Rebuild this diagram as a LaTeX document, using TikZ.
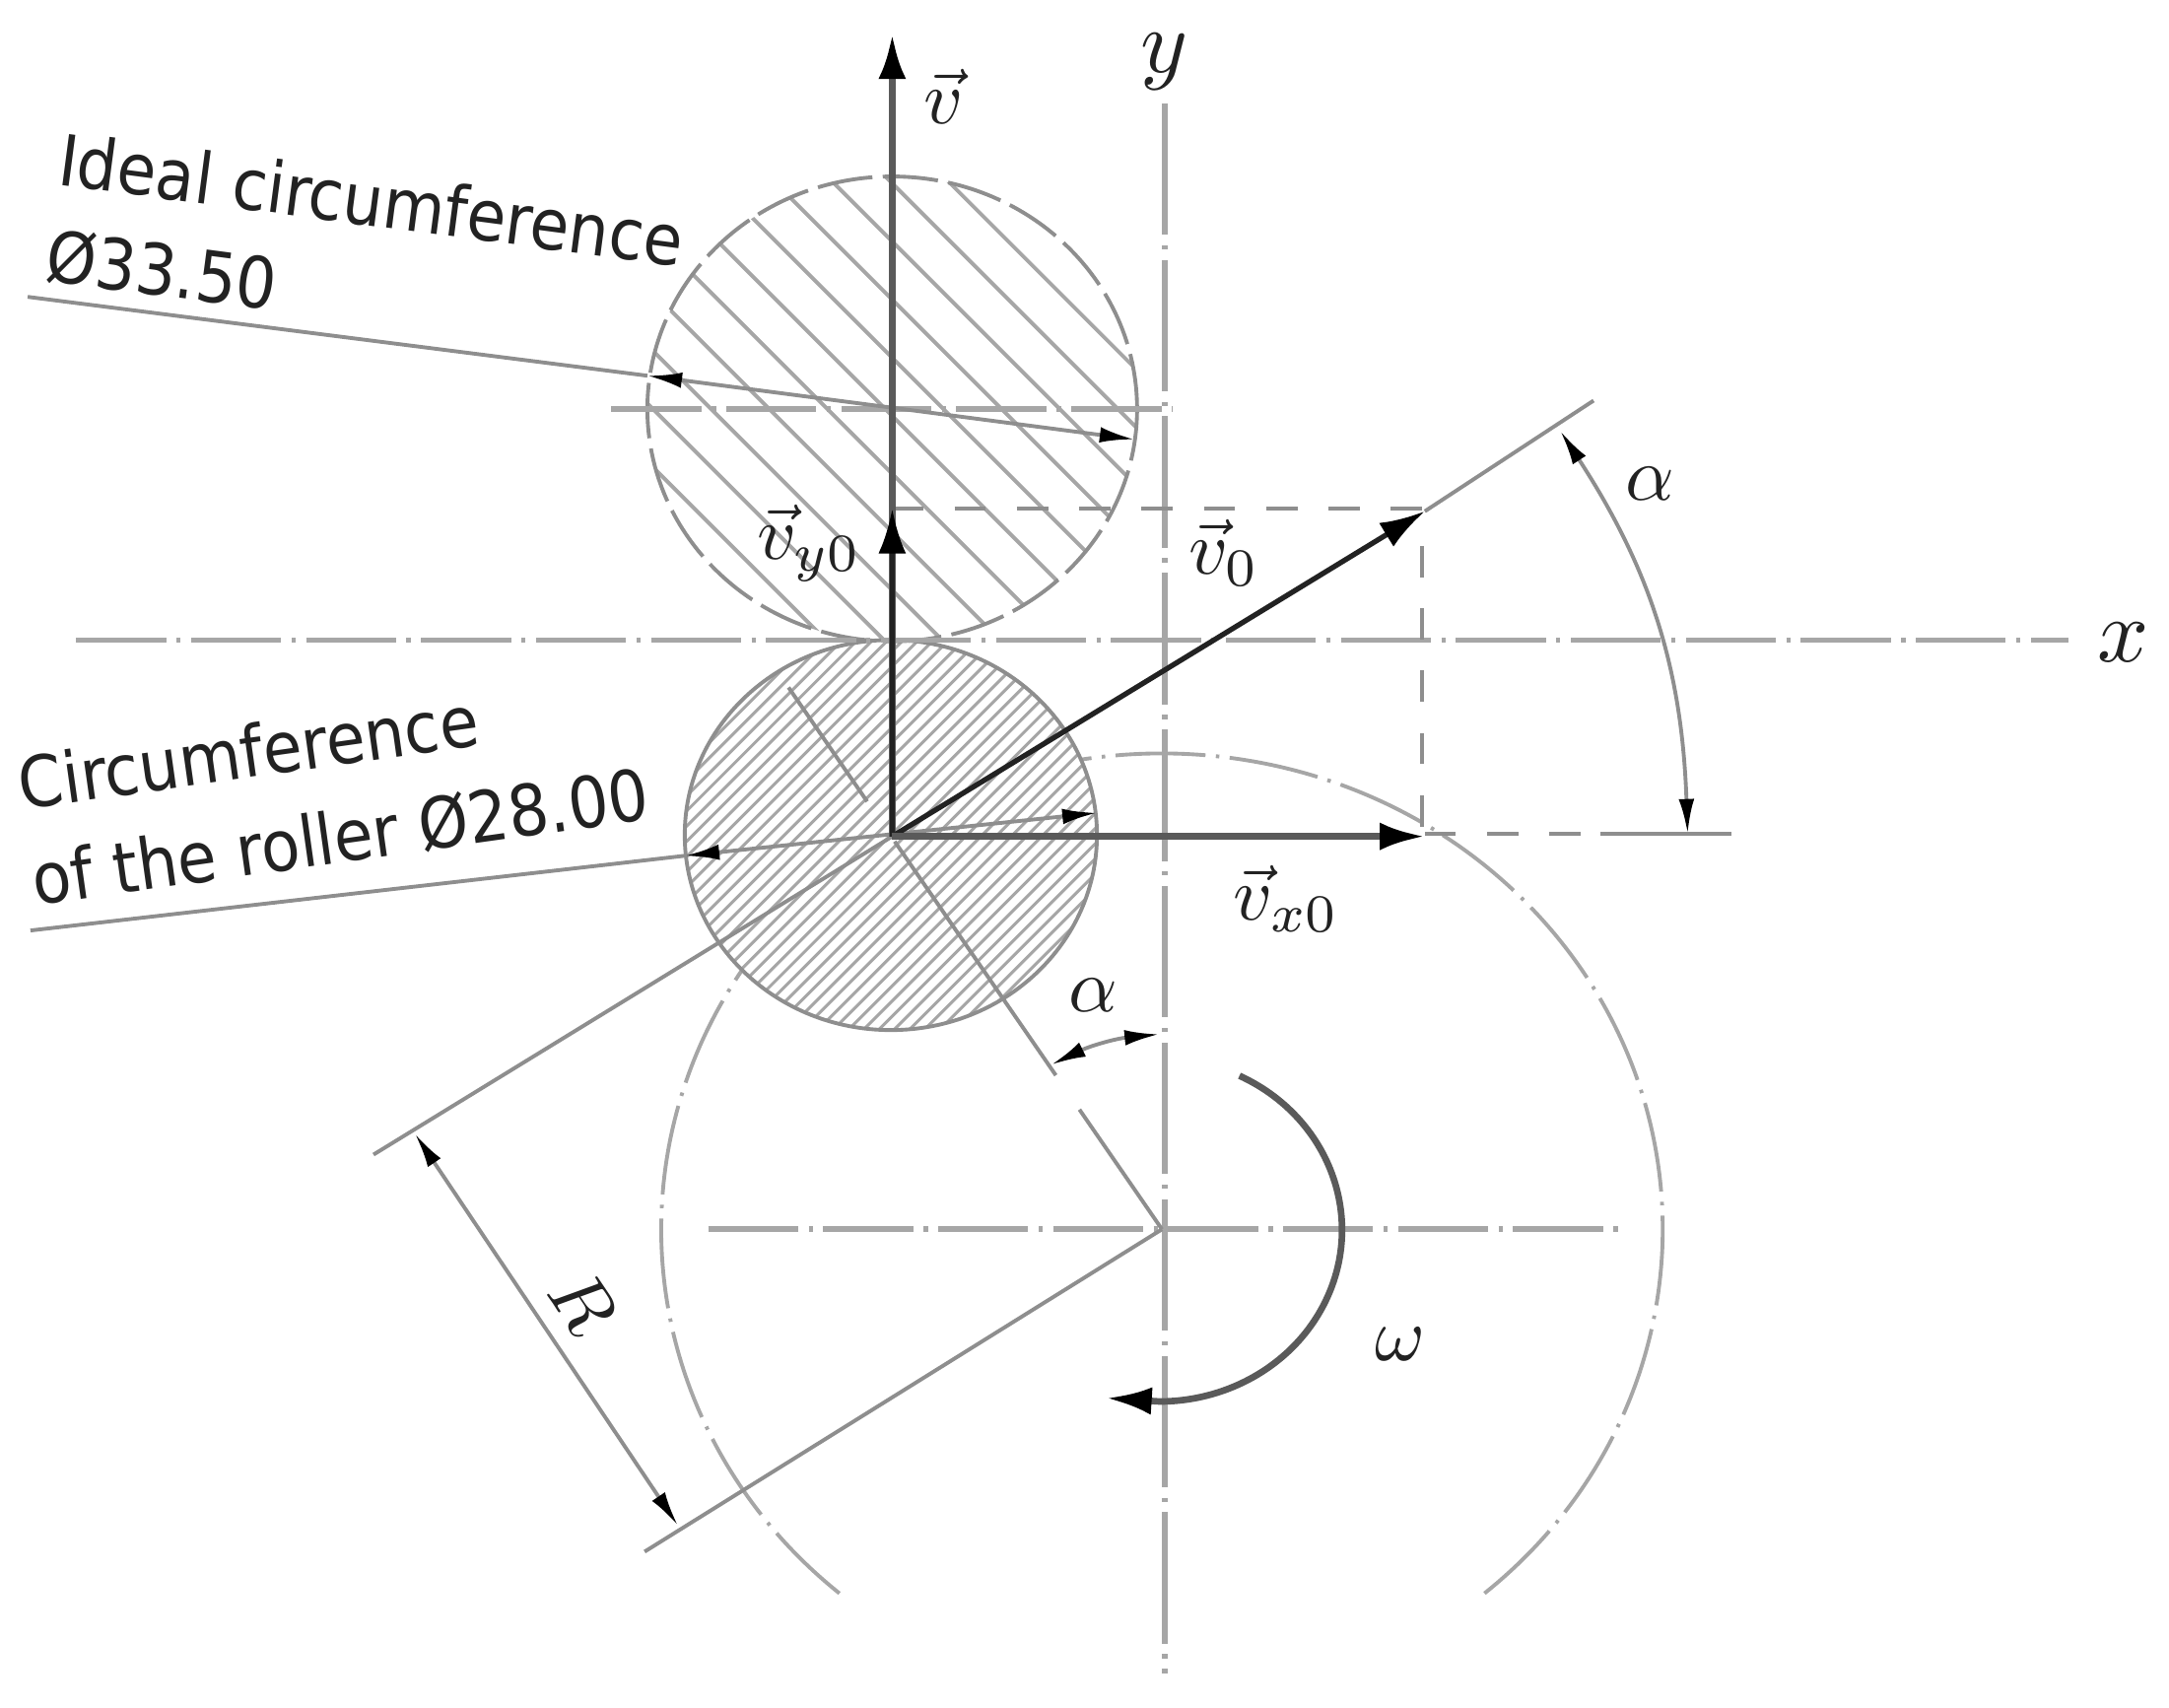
\documentclass[tikz,border=0pt]{standalone}
\usepackage{amsmath,amssymb}
\usepackage{fontspec}
\usepackage{xcolor}
\usetikzlibrary{calc,arrows.meta}
\newfontfamily\labfont{DejaVu Sans Condensed}
\definecolor{thin}{HTML}{A6A6A6}
\definecolor{mid}{HTML}{8E8E8E}
\definecolor{vecgray}{HTML}{5A5A5A}
\definecolor{ink}{HTML}{222222}
\tikzset{
  axisline/.style={draw=thin, line width=1.6pt, dash pattern=on 26pt off 3pt on 1.2pt off 3pt},
  vaxis/.style={draw=thin, line width=1.6pt, dash pattern=on 38pt off 3pt on 1.2pt off 3pt},
  chainline/.style={draw=thin, line width=1.1pt, dash pattern=on 26pt off 3pt on 1pt off 3pt},
  help/.style={draw=mid, line width=1.3pt, dash pattern=on 9pt off 9pt},
  base/.style={draw=mid, line width=1.1pt},
  hatchwide/.style={draw=thin, line width=1.1pt},
  hatchfine/.style={draw=thin, line width=0.85pt},
  vecline/.style={draw=vecgray, line width=2.1pt, -{Latex[length=13pt,width=8pt,black]}},
  vecdark/.style={draw=ink, line width=1.5pt, -{Latex[length=13pt,width=8pt,black]}},
  dimline/.style={draw=mid, line width=1.1pt, {Latex[length=10pt,width=4.5pt,black]}-{Latex[length=10pt,width=4.5pt,black]}},
  lab/.style={text=ink, scale=2.2, inner sep=0pt},
  labaxis/.style={text=ink, scale=2.6, inner sep=0pt},
  note/.style={text=ink, font=\labfont\fontsize{20.4}{28}\selectfont, align=left, inner sep=0pt},
}
\begin{document}
\begin{tikzpicture}[x=0.014037cm,y=0.014037cm]
  \useasboundingbox (0,0) rectangle (1568,1234.6);
  \coordinate (O) at (645,630);
  \coordinate (I) at (645,939);
  \coordinate (C) at (840,346);
  % large arc first, the roller hides part of it
  \draw[chainline] (C)+(-49.9:362 and 344) arc (-49.9:229.9:362 and 344);
  \fill[white] (644,631) ellipse (149 and 141);
  % hatching
  \begin{scope}
    \clip (I) ellipse (177 and 168);
    \foreach \k in {-9,...,3}
      \draw[hatchwide] (400,{1305+42*\k}) -- (900,{805+42*\k});
  \end{scope}
  \begin{scope}
    \clip (644,631) ellipse (149 and 141);
    \foreach \k in {-20,...,18}
      \draw[hatchfine] (400,{387+11*\k}) -- (900,{887+11*\k});
  \end{scope}
  \draw[base, dash pattern=on 16pt off 3pt] (I) ellipse (177 and 168);
  \draw[base] (644,631) ellipse (149 and 141);
  % axes
  \coordinate (ya) at (842,1160);
  \coordinate (yb) at (842,25);
  \coordinate (xa) at (55,772);
  \coordinate (xb) at (1495,772);
  \draw[vaxis] (ya) -- (yb);
  \draw[axisline] (xa) -- (xb);
  \draw[axisline] (442,939) -- (848,939);
  \draw[axisline] (512,346) -- (1170,346);
  \node[labaxis] (laby) at (842,1190) {$y$};
  \node[labaxis] (labx) at (1535,770) {$x$};
  % construction lines
  \coordinate (Vy) at (645,867);
  \coordinate (V0) at (1030,865);
  \coordinate (Vx) at (1030,630);
  \coordinate (Vend) at (1152,945);
  \draw[help] (Vy) -- (1045,867);
  \draw[help] (1028,840) -- (1028,630);
  \draw[help] (1030,632) -- (1157,632);
  \draw[help, dash pattern=] (1157,632) -- (1252,632);
  \draw[base] (V0) -- (Vend);
  \draw[base] (270,400) -- (O);
  \draw[base] (C) -- (466,113);
  \draw[base, dash pattern=on 42pt off 12pt on 82pt off 14pt on 40pt off 5pt] (C) -- (565,745);
  % leaders
  \coordinate (ia) at (468,963);
  \coordinate (ib) at (820,917);
  \coordinate (ra) at (495,616);
  \coordinate (rb) at (793,647);
  \draw[base] (20,1020) -- (ia);
  \draw[dimline] (ia) -- (ib);
  \draw[base] (22,562) -- (ra);
  \draw[dimline] (ra) -- (rb);
  % vectors
  \coordinate (Vt) at (645,1210);
  \draw[vecline] (O) -- (Vt);
  \draw[vecdark] (O) -- (Vy);
  \draw[vecdark] (O) -- (V0);
  \draw[vecline] (O) -- (Vx);
  \node[lab] (labv) at (682,1165) {$\vec{v}$};
  \node[lab] (labvy) at (585,842) {$\vec{v}_{y0}$};
  \node[lab] (labv0) at (885,835) {$\vec{v}_{0}$};
  \node[lab] (labvx) at (930,585) {$\vec{v}_{x0}$};
  % angles
  \coordinate (aa) at (1128,923);
  \coordinate (ab) at (1220,632);
  \draw[dimline] (aa) to[bend left=15.6] (ab);
  \node[lab] (labaa) at (1193,885) {$\alpha$};
  \coordinate (ac) at (760,465);
  \coordinate (ad) at (838,487);
  \draw[dimline] (ac) to[bend left=10] (ad);
  \node[lab] (labab) at (790,515) {$\alpha$};
  % rotation
  \coordinate (wa) at (896,457);
  \coordinate (wb) at (800,224);
  \draw[draw=vecgray, line width=1.9pt, -{Latex[length=13pt,width=8pt,black]}] (wa) arc (64:-90:132 and 124) -- (wb);
  \node[lab] (labw) at (1012,263) {$\omega$};
  % radius
  \coordinate (ra1) at (300,415);
  \coordinate (ra2) at (490,132);
  \draw[dimline] (ra1) -- (ra2);
  \node[lab, rotate=-56] (labr) at (422,293) {$R$};
  % notes
  \node[note, anchor=west, rotate=-7.5] (noteideal) at (38,1085) {Ideal circumference\\Ø33.50};
  \node[note, anchor=west, rotate=8] (noteroller) at (18,633) {Circumference\\of the roller Ø28.00};
\end{tikzpicture}
\end{document}
